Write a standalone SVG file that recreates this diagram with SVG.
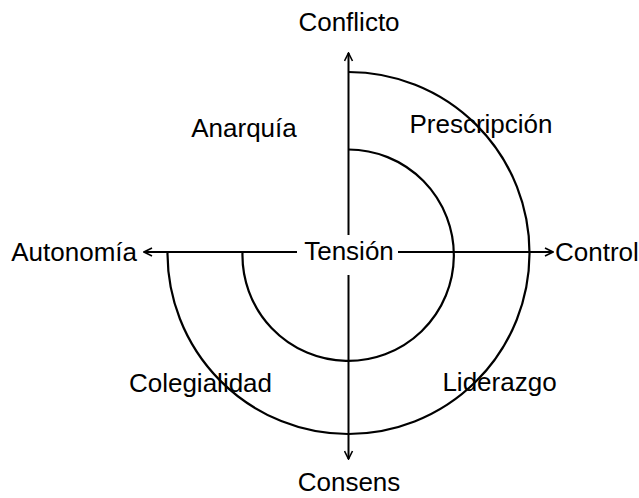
<svg xmlns="http://www.w3.org/2000/svg" width="639" height="498" viewBox="0 0 639 498">
<defs>
<style>
text{font-family:"Liberation Sans",Arial,sans-serif;font-size:26px;fill:#000}
.ax{stroke:#000;stroke-width:2;fill:none}
.arc{stroke:#000;stroke-width:2.2;fill:none}
</style>
<marker id="ah" viewBox="0 0 10 10" refX="9" refY="5" markerWidth="10" markerHeight="10" markerUnits="userSpaceOnUse" orient="auto">
<path d="M1,1 L9,5 L1,9" fill="none" stroke="#000" stroke-width="1.6"/>
</marker>
</defs>
<rect width="639" height="498" fill="#fff"/>
<g id="arcs">
<path id="outer-arc" class="arc" d="M348.5,72 A181,181 0 1 1 167.5,252"/>
<path id="inner-arc" class="arc" d="M348.5,149.5 A105.7,105.7 0 1 1 242.5,252"/>
</g>
<g id="connectors">
<line class="ax" x1="348.5" y1="252" x2="348.5" y2="53" marker-end="url(#ah)"/>
<line class="ax" x1="348.5" y1="252" x2="348.5" y2="459" marker-end="url(#ah)"/>
<line class="ax" x1="348.5" y1="252" x2="144" y2="252" marker-end="url(#ah)"/>
<line class="ax" x1="348.5" y1="252" x2="553" y2="252" marker-end="url(#ah)"/>
</g>
<g id="tension">
<rect x="297" y="235" width="101" height="40" fill="#fff"/>
<text x="349" y="260" text-anchor="middle">Tensión</text>
</g>
<g id="conflicto"><text x="349" y="31" text-anchor="middle">Conflicto</text></g>
<g id="consens"><text x="349" y="491" text-anchor="middle">Consens</text></g>
<g id="autonomia"><text x="137" y="261" text-anchor="end">Autonomía</text></g>
<g id="control"><text x="555" y="261">Control</text></g>
<g id="anarquia"><text x="244" y="137" text-anchor="middle">Anarquía</text></g>
<g id="prescripcion"><text x="481" y="133" text-anchor="middle">Prescripción</text></g>
<g id="colegialidad"><text x="200.5" y="392" text-anchor="middle">Colegialidad</text></g>
<g id="liderazgo"><text x="499.5" y="391" text-anchor="middle">Liderazgo</text></g>
</svg>
